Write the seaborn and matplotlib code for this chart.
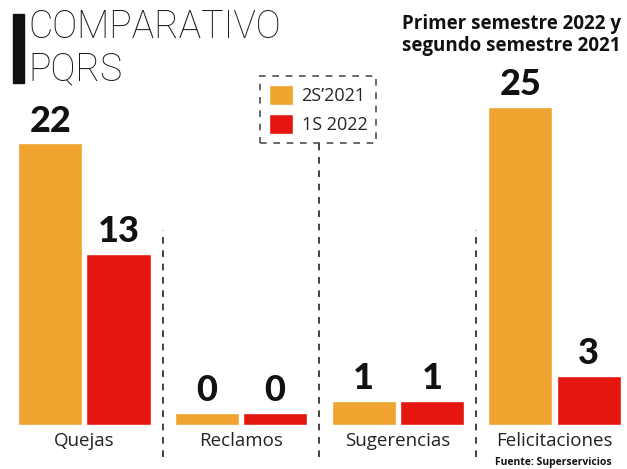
import matplotlib
matplotlib.use("Agg")
import matplotlib.pyplot as plt
import seaborn as sns
import pandas as pd

categories = ["Quejas", "Reclamos", "Sugerencias", "Felicitaciones"]
series = ["2S\u20192021", "1S 2022"]
values_2s2021 = [22, 0, 1, 25]
values_1s2022 = [13, 0, 1, 3]

# style
orange = "#F0A32E"
red = "#E5160F"
stub = 1.0          # small base so zero bars still show, like the print version
W, H = 627, 469
ppu = 12.24         # pixels per unit on the value axis

df = pd.DataFrame({
    "categoria": categories * 2,
    "serie": [series[0]] * 4 + [series[1]] * 4,
    "valor": values_2s2021 + values_1s2022,
})
df["alto"] = df["valor"] + stub

sns.set_style("white")
plt.rcParams["font.family"] = ["Open Sans", "DejaVu Sans"]

fig = plt.figure(figsize=(W / 100, H / 100), dpi=100)
ax = fig.add_axes([0, 44 / H, 1, 425 / H])

sns.barplot(data=df, x="categoria", y="alto", hue="serie", order=categories,
            hue_order=series, palette=[orange, red], width=0.87, gap=0.06,
            saturation=1, ax=ax, legend=True)

ax.set_xlim(-0.539, 3.463)
ax.set_ylim(0, 425 / ppu)
ax.set_xlabel("")
ax.set_ylabel("")
ax.set_yticks([])
ax.set_xticks([])
for s in ax.spines.values():
    s.set_visible(False)

# value labels
for cont, vals in zip(ax.containers, [values_2s2021, values_1s2022]):
    for bar, v in zip(cont, vals):
        ax.annotate(str(v), (bar.get_x() + bar.get_width() / 2, bar.get_height()),
                    xytext=(0, 4), textcoords="offset points", ha="center",
                    va="bottom", fontsize=26, fontweight="black",
                    family=["Lato", "DejaVu Sans"], color="#111111")

# category labels
for i, c in enumerate(categories):
    ax.text(i, -16 / ppu, c, ha="center", va="center", fontsize=13.5,
            color="#222222", clip_on=False)

# dashed separators
for x, top in [(0.5, 230), (1.5, 143), (2.5, 230)]:
    ax.plot([x, x], [-(457 - 425) / ppu, (425 - top) / ppu], color="#222222",
            lw=1.2, ls=(0, (4, 4)), clip_on=False)

# legend
handles, labels = ax.get_legend_handles_labels()
leg = ax.legend(handles, labels, loc="upper left",
                bbox_to_anchor=(260 / W, 1 - 76 / H), bbox_transform=fig.transFigure,
                frameon=True, fontsize=13, handlelength=1.3, handleheight=1.3,
                handletextpad=0.5, labelspacing=0.5, borderpad=0.5,
                fancybox=False, borderaxespad=0)
leg.get_frame().set_linestyle((0, (4, 4)))
leg.get_frame().set_edgecolor("#222222")
leg.get_frame().set_linewidth(1.2)

# title block
fig.patches.append(plt.Rectangle((13 / W, 1 - 83 / H), 11 / W, 69 / H,
                                 transform=fig.transFigure, color="#111111"))
for txt, base in [("COMPARATIVO", 38), ("PQRS", 80)]:
    fig.text(28 / W, 1 - base / H, txt, fontsize=27, fontweight="light",
             family=["Roboto", "DejaVu Sans"], color="#1a1a1a",
             va="baseline", ha="left")

fig.text(621 / W, 1 - 29 / H, "Primer semestre 2022 y", fontsize=13.5,
         fontweight="bold", color="#111111", ha="right", va="baseline")
fig.text(621 / W, 1 - 51 / H, "segundo semestre 2021", fontsize=13.5,
         fontweight="bold", color="#111111", ha="right", va="baseline")

fig.text(612 / W, 1 - 462 / H, "Fuente: Superservicios", fontsize=7.5,
         fontweight="bold", color="#111111", ha="right", va="center")

fig.savefig("out.png", dpi=100, facecolor="white")
